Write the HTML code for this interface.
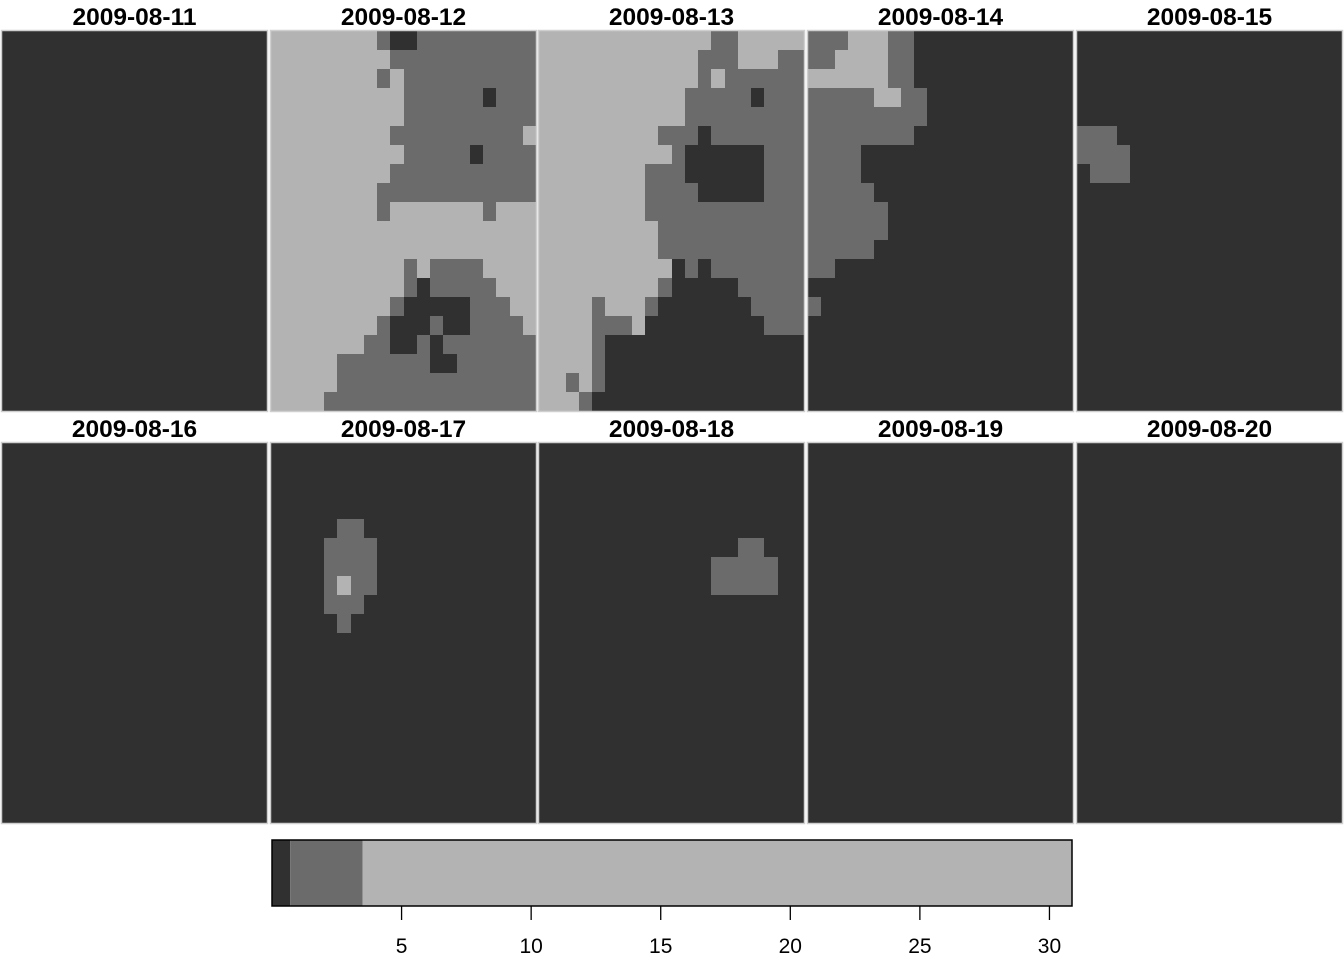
<!DOCTYPE html>
<html><head><meta charset="utf-8"><style>
body{margin:0;background:#fff;}
svg{display:block;font-family:"Liberation Sans",Arial,sans-serif;}
</style></head><body>
<svg id="chart" width="1344" height="960"></svg>
<script>
const dates = ["2009-08-11","2009-08-12","2009-08-13","2009-08-14","2009-08-15","2009-08-16","2009-08-17","2009-08-18","2009-08-19","2009-08-20"];
const colorBreaks = [0, 0.7, 3.5, 30.87];
const classColors = ["#303030","#6b6b6b","#b3b3b3"];
const tickValues = [5,10,15,20,25,30];
const tickLabels = ["5","10","15","20","25","30"];
const D20 = "DDDDDDDDDDDDDDDDDDDD";
const grid12 = ["LLLLLLLLMDDMMMMMMMMM","LLLLLLLLLMMMMMMMMMMM","LLLLLLLLMLMMMMMMMMMM","LLLLLLLLLLMMMMMMDMMM","LLLLLLLLLLMMMMMMMMMM","LLLLLLLLLMMMMMMMMMML","LLLLLLLLLLMMMMMDMMMM","LLLLLLLLLMMMMMMMMMMM","LLLLLLLLMMMMMMMMMMMM","LLLLLLLLMLLLLLLLMLLL","LLLLLLLLLLLLLLLLLLLL","LLLLLLLLLLLLLLLLLLLL","LLLLLLLLLLMLMMMMLLLL","LLLLLLLLLLMDMMMMMLLL","LLLLLLLLLMDDDDDMMMLL","LLLLLLLLMDDDMDDMMMML","LLLLLLLMMDDMDMMMMMMM","LLLLLMMMMMMMDDMMMMMM","LLLLLMMMMMMMMMMMMMMM","LLLLMMMMMMMMMMMMMMMM"];
const grid13 = ["LLLLLLLLLLLLLMMLLLLL","LLLLLLLLLLLLMMMLLLMM","LLLLLLLLLLLLMLMMMMMM","LLLLLLLLLLLMMMMMDMMM","LLLLLLLLLLLMMMMMMMMM","LLLLLLLLLMMMDMMMMMMM","LLLLLLLLLLMDDDDDDMMM","LLLLLLLLMMMDDDDDDMMM","LLLLLLLLMMMMDDDDDMMM","LLLLLLLLMMMMMMMMMMMM","LLLLLLLLLMMMMMMMMMMM","LLLLLLLLLMMMMMMMMMMM","LLLLLLLLLLDMDMMMMMMM","LLLLLLLLLMDDDDDMMMMM","LLLLMLLLMDDDDDDDMMMM","LLLLMMMLDDDDDDDDDMMM","LLLLMDDDDDDDDDDDDDDD","LLLLMDDDDDDDDDDDDDDD","LLMLMDDDDDDDDDDDDDDD","LLLMDDDDDDDDDDDDDDDD"];
const grid14 = ["MMMLLLMMDDDDDDDDDDDD","MMLLLLMMDDDDDDDDDDDD","LLLLLLMMDDDDDDDDDDDD","MMMMMLLMMDDDDDDDDDDD","MMMMMMMMMDDDDDDDDDDD","MMMMMMMMDDDDDDDDDDDD","MMMMDDDDDDDDDDDDDDDD","MMMMDDDDDDDDDDDDDDDD","MMMMMDDDDDDDDDDDDDDD","MMMMMMDDDDDDDDDDDDDD","MMMMMMDDDDDDDDDDDDDD","MMMMMDDDDDDDDDDDDDDD","MMDDDDDDDDDDDDDDDDDD",D20,"MDDDDDDDDDDDDDDDDDDD",D20,D20,D20,D20,D20];
const grid15 = [D20,D20,D20,D20,D20,"MMMDDDDDDDDDDDDDDDDD","MMMMDDDDDDDDDDDDDDDD","DMMMDDDDDDDDDDDDDDDD",D20,D20,D20,D20,D20,D20,D20,D20,D20,D20,D20,D20];
const grid17 = [D20,D20,D20,D20,"DDDDDMMDDDDDDDDDDDDD","DDDDMMMMDDDDDDDDDDDD","DDDDMMMMDDDDDDDDDDDD","DDDDMLMMDDDDDDDDDDDD","DDDDMMMDDDDDDDDDDDDD","DDDDDMDDDDDDDDDDDDDD",D20,D20,D20,D20,D20,D20,D20,D20,D20,D20];
const grid18 = [D20,D20,D20,D20,D20,"DDDDDDDDDDDDDDDMMDDD","DDDDDDDDDDDDDMMMMMDD","DDDDDDDDDDDDDMMMMMDD",D20,D20,D20,D20,D20,D20,D20,D20,D20,D20,D20,D20];
const gridAllDark = Array(20).fill(D20);
const grids = [gridAllDark,grid12,grid13,grid14,grid15,gridAllDark,grid17,grid18,gridAllDark,gridAllDark];

const NS="http://www.w3.org/2000/svg";
const svg=document.getElementById('chart');
function mk(t,a,p){const e=document.createElementNS(NS,t);for(const k in a)e.setAttribute(k,a[k]);(p||svg).appendChild(e);return e;}
const panelX=[2,271,539,808,1077], panelY=[31,443], PW=265, PH=380;
const cmap={D:classColors[0],M:classColors[1],L:classColors[2]};
dates.forEach((d,i)=>{
  const px=panelX[i%5], py=panelY[Math.floor(i/5)];
  const g=mk('g',{});
  
  
  const grid=grids[i], nr=grid.length, nc=grid[0].length;
  const cw=PW/nc, ch=PH/nr;
  for(let r=0;r<nr;r++)for(let c=0;c<nc;c++){
    const x0=Math.round(px+c*cw), x1=Math.round(px+(c+1)*cw);
    const y0=Math.round(py+r*ch), y1=Math.round(py+(r+1)*ch);
    const cell=mk('rect',{x:x0,y:y0,width:x1-x0,height:y1-y0,fill:cmap[grid[r][c]]},g);
    
    
  }
  const b=mk('rect',{x:px-0.5,y:py-0.5,width:PW+1,height:PH+1,fill:'none',stroke:'#cfcfcf','stroke-width':1.5},g);
  
  
  const t=mk('text',{x:px+PW/2,y:py-6,'text-anchor':'middle','font-size':24.5,'font-weight':'bold',fill:'#000'},g);
  t.textContent=d;
  
  
});
// colorbar
const cbX0=272, cbX1=1072, cbY=840, cbH=66;
const vMin=colorBreaks[0], vMax=colorBreaks[colorBreaks.length-1];
const sx=v=>cbX0+(v-vMin)/(vMax-vMin)*(cbX1-cbX0);
const cb=mk('g',{});


for(let k=0;k<classColors.length;k++){
  const r=mk('rect',{x:sx(colorBreaks[k]),y:cbY,width:sx(colorBreaks[k+1])-sx(colorBreaks[k]),height:cbH,fill:classColors[k]},cb);
  
  
}
mk('rect',{x:cbX0,y:cbY,width:cbX1-cbX0,height:cbH,fill:'none',stroke:'#000','stroke-width':1.5},cb);
tickValues.forEach((v,k)=>{
  const x=sx(v);
  const l=mk('line',{x1:x,x2:x,y1:cbY+cbH,y2:cbY+cbH+14,stroke:'#000','stroke-width':1.3},cb);
  
  
  const t=mk('text',{x:x,y:953,'text-anchor':'middle','font-size':21,fill:'#000'},cb);
  t.textContent=tickLabels[k];
  
  
});
</script>
</body></html>
